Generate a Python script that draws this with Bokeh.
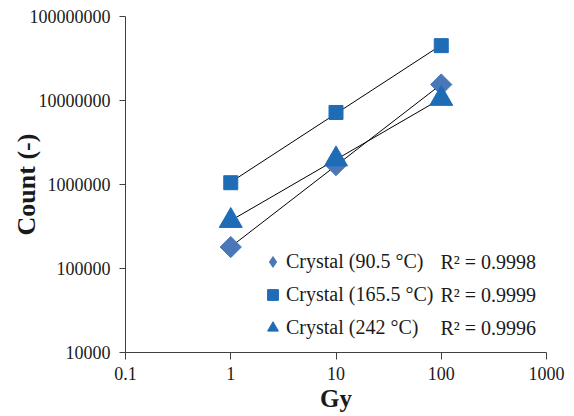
import math
import numpy as np
from bokeh.plotting import figure
from bokeh.models import Range1d, FixedTicker, Legend, LegendItem, Label, ColumnDataSource
from bokeh.embed import file_html
from bokeh.resources import INLINE

# ---- data ----
dose = [1, 10, 100]
count_90 = [180000, 1700000, 15500000]
count_165 = [1050000, 7200000, 45000000]
count_242 = [370000, 2000000, 10500000]
series_names = ["Crystal (90.5 °C)", "Crystal (165.5 °C)", "Crystal (242 °C)"]
r2_labels = ["R² = 0.9998", "R² = 0.9999", "R² = 0.9996"]
x_ticks = [0.1, 1, 10, 100, 1000]
x_tick_labels = ["0.1", "1", "10", "100", "1000"]
y_ticks = [1e4, 1e5, 1e6, 1e7, 1e8]
y_tick_labels = ["10000", "100000", "1000000", "10000000", "100000000"]

FONT = "Liberation Serif"
TXT = "#1a1a1a"
BLUE = "#1f6cb6"
BLUE_D = "#4a77b8"

p = figure(width=574, height=416, x_axis_type="log", y_axis_type="log",
           x_range=Range1d(x_ticks[0], x_ticks[-1]), y_range=Range1d(y_ticks[0], y_ticks[-1]),
           output_backend="svg", toolbar_location=None,
           min_border_left=125, min_border_right=28, min_border_top=16, min_border_bottom=64)
p.outline_line_color = None
p.grid.visible = False
p.background_fill_color = "white"

for ax in (p.xaxis[0], p.yaxis[0]):
    ax.axis_line_color = "#404040"
    ax.major_tick_line_color = "#404040"
    ax.minor_tick_line_color = None
    ax.major_tick_in = 0
    ax.major_label_text_font = FONT
    ax.major_label_text_font_size = "18px"
    ax.major_label_text_color = TXT
    ax.axis_label_text_font = FONT
    ax.axis_label_text_font_style = "bold"
    ax.axis_label_text_color = TXT

p.xaxis.ticker = FixedTicker(ticks=x_ticks)
p.xaxis.major_label_overrides = {t: s for t, s in zip(x_ticks, x_tick_labels)}
p.xaxis.major_tick_out = 7
p.xaxis.major_label_standoff = 7
p.xaxis.axis_label = "Gy"
p.xaxis.axis_label_text_font_size = "25px"
p.xaxis.axis_label_standoff = 2

p.yaxis.ticker = FixedTicker(ticks=y_ticks)
p.yaxis.major_label_overrides = {t: s for t, s in zip(y_ticks, y_tick_labels)}
p.yaxis.major_tick_out = 6
p.yaxis.major_label_standoff = 9
p.yaxis.axis_label = "Count (-)"
p.yaxis.axis_label_text_font_size = "26px"
p.yaxis.axis_label_standoff = -14

# trend lines (power fit in log space, over the data range)
lx = np.log10(dose)
for ys in (count_90, count_165, count_242):
    b, a = np.polyfit(lx, np.log10(ys), 1)
    xs = [dose[0], dose[-1]]
    fit = [10 ** (a + b * math.log10(v)) for v in xs]
    p.line(xs, fit, line_color="black", line_width=1)

# markers
p.scatter(dose, count_90, marker="square", angle=math.pi / 4, size=15,
          fill_color=BLUE_D, line_color=BLUE_D)
p.scatter(dose, count_165, marker="square", size=14, fill_color=BLUE, line_color=BLUE)
p.scatter(dose, count_242, marker="triangle", size=23, fill_color=BLUE, line_color=BLUE)

# legend proxies (one undrawable NaN point each, so the legend has a glyph to show)
nan = float("nan")
def proxy():
    return ColumnDataSource(dict(x=[nan], y=[nan]))
lg1 = p.scatter("x", "y", source=proxy(), marker="diamond",
                fill_color=BLUE_D, line_color=BLUE_D)
lg2 = p.scatter("x", "y", source=proxy(), marker="square",
                fill_color=BLUE, line_color=BLUE)
lg3 = p.scatter("x", "y", source=proxy(), marker="triangle",
                fill_color=BLUE, line_color=BLUE)

legend = Legend(items=[LegendItem(label=n, renderers=[r]) for n, r in zip(series_names, [lg1, lg2, lg3])],
                location=(134, 8), orientation="vertical")
legend.glyph_width = 27
legend.glyph_height = 27
legend.label_height = 33
legend.label_standoff = -2
legend.spacing = 0
legend.padding = 0
legend.margin = 0
legend.border_line_color = None
legend.background_fill_alpha = 0
legend.label_text_font = FONT
legend.label_text_font_size = "20px"
legend.label_text_color = TXT
p.add_layout(legend, "center")

for i, t in enumerate(r2_labels):
    p.add_layout(Label(x=315, y=91 - 33 * i, x_units="screen", y_units="screen", text=t,
                       text_font=FONT, text_font_size="20px", text_color=TXT,
                       text_baseline="middle", text_align="left"))

open("out.html", "w").write(file_html(p, INLINE))
